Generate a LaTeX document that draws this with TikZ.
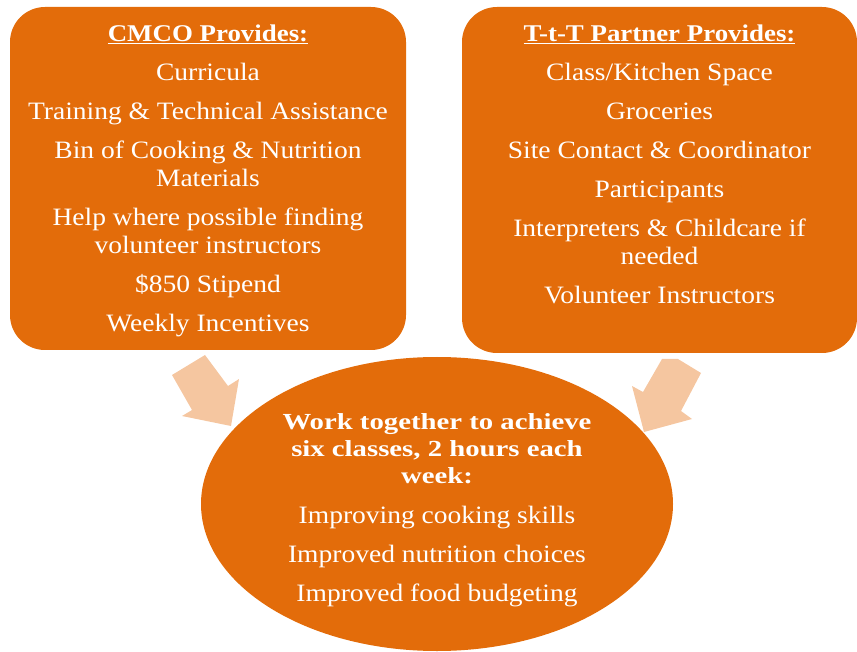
\documentclass[tikz,border=0pt]{standalone}
\usepackage{fontspec}
\setmainfont{Liberation Serif}[FakeStretch=1.1, BoldFeatures={FakeStretch=1.25}]
\newfontfamily\titlefont{Liberation Serif}[BoldFeatures={FakeStretch=1.12}]
\usetikzlibrary{positioning, shapes.geometric}

\definecolor{boxorange}{HTML}{E36C0A}
\definecolor{arrowpeach}{HTML}{F5C6A0}

\tikzset{
  provider/.style={rounded corners=35pt, fill=boxorange, inner sep=0pt},
  goal/.style={ellipse, fill=boxorange, inner sep=0pt,
    minimum width=472pt, minimum height=294pt},
  listtext/.style={text=white, align=center, inner sep=0pt,
    font=\fontsize{25}{28}\selectfont},
  headtext/.style={listtext, font=\bfseries\fontsize{23}{27}\selectfont},
  bigarrow/.style={fill=arrowpeach}
}
\newcommand{\listhead}[1]{{\titlefont\bfseries\fontsize{24}{28}\selectfont\underline{#1}}}

\begin{document}
\begin{tikzpicture}[x=1pt, y=-1pt]
  \useasboundingbox (0,0) rectangle (857,652);

  % the two providers
  \node[provider, minimum width=396pt, minimum height=343pt] (cmco) at (208,178.5) {};
  \node[provider, minimum width=395pt, minimum height=346pt] (partner) at (659.5,180) {};

  % block arrows into the middle
  \fill[bigarrow] (205,355) -- (172,375) -- (192,410) -- (182,416)
    -- (231,426) -- (239,379) -- (228,386) -- cycle;
  \fill[bigarrow] (662,359) -- (678,359) -- (701,373) -- (681,411)
    -- (692,419) -- (644,432) -- (632,386) -- (643,392) -- cycle;

  \node[goal] (together) at (437,504) {};

  \node[listtext, anchor=north] (cmcolist) at (208,25) {%
    \listhead{CMCO Provides:}\\[11pt]
    Curricula\\[11pt]
    Training \& Technical Assistance\\[11pt]
    Bin of Cooking \& Nutrition\\Materials\\[11pt]
    Help where possible finding\\volunteer instructors\\[11pt]
    \$850 Stipend\\[11pt]
    Weekly Incentives};

  \node[listtext, anchor=north] (partnerlist) at (659.5,25) {%
    \listhead{T-t-T Partner Provides:}\\[11pt]
    Class/Kitchen Space\\[11pt]
    Groceries\\[11pt]
    Site Contact \& Coordinator\\[11pt]
    Participants\\[11pt]
    Interpreters \& Childcare if\\needed\\[11pt]
    Volunteer Instructors};

  \node[headtext, anchor=north] (goalhead) at (437,413) {%
    Work together to achieve\\six classes, 2 hours each\\week:};
  \node[listtext, anchor=north, below=22pt of goalhead] (goallist) {%
    Improving cooking skills\\[11pt]
    Improved nutrition choices\\[11pt]
    Improved food budgeting};
\end{tikzpicture}
\end{document}
